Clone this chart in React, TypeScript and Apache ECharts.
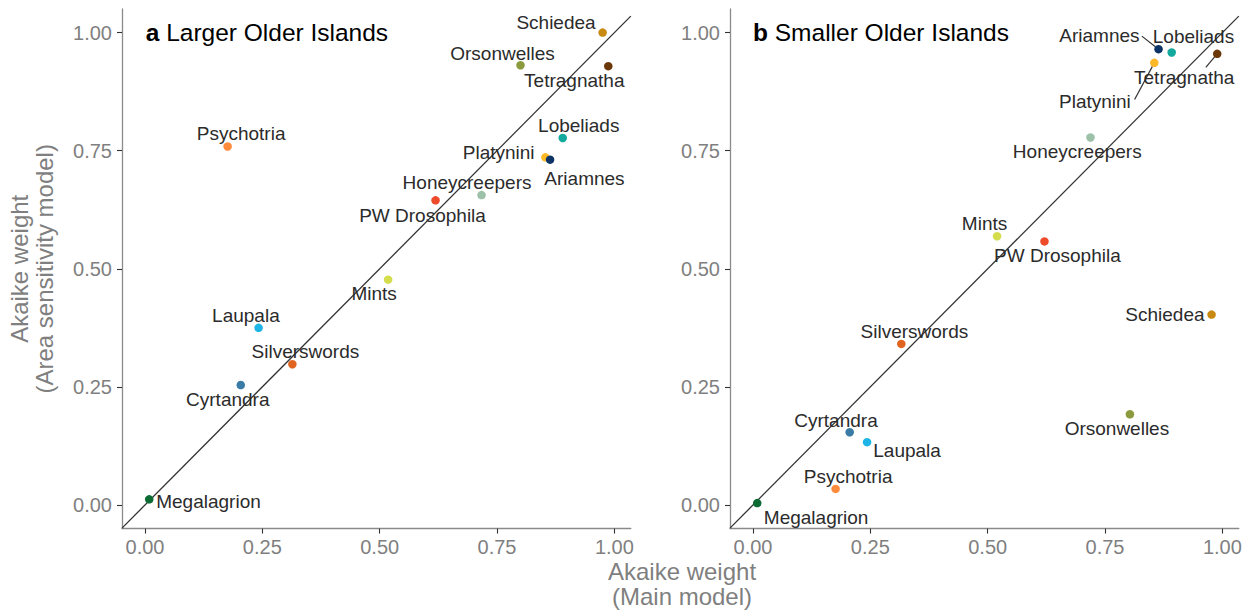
import React, { useEffect, useRef } from "react";
import * as echarts from "echarts";

// ---------- data ----------
const species = [
  "Schiedea", "Orsonwelles", "Tetragnatha", "Lobeliads", "Platynini", "Ariamnes", "Psychotria",
  "Honeycreepers", "PW Drosophila", "Mints", "Laupala", "Silverswords", "Cyrtandra", "Megalagrion",
];
// panel a: Larger Older Islands
const mainA = [0.975, 0.800, 0.987, 0.890, 0.853, 0.863, 0.176, 0.717, 0.619, 0.518, 0.242, 0.314, 0.204, 0.009];
const areaA = [1.000, 0.931, 0.929, 0.777, 0.736, 0.731, 0.759, 0.656, 0.645, 0.477, 0.375, 0.298, 0.254, 0.012];
// panel b: Smaller Older Islands
const mainB = [0.977, 0.803, 0.989, 0.892, 0.855, 0.864, 0.176, 0.719, 0.621, 0.520, 0.243, 0.316, 0.206, 0.009];
const areaB = [0.403, 0.192, 0.955, 0.958, 0.936, 0.965, 0.034, 0.778, 0.558, 0.569, 0.133, 0.341, 0.154, 0.004];
const tickValues = [0, 0.25, 0.5, 0.75, 1];

// ---------- styles ----------
const colors: Record<string, string> = {
  Schiedea: "#C98A12",
  Orsonwelles: "#8A9A3C",
  Tetragnatha: "#6A3708",
  Lobeliads: "#13A89E",
  Platynini: "#FDB827",
  Ariamnes: "#0B3366",
  Psychotria: "#FF8B3D",
  Honeycreepers: "#9CC0A8",
  "PW Drosophila": "#EE4B2B",
  Mints: "#D4DD4B",
  Laupala: "#1CB5E6",
  Silverswords: "#E0631F",
  Cyrtandra: "#3A7CA5",
  Megalagrion: "#0B6B32",
};

// label placement relative to point centre: [dx, dy, align]
const labelPosA: Record<string, [number, number, string]> = {
  Schiedea: [-7, -10, "right"],
  Orsonwelles: [-18, -12, "center"],
  Tetragnatha: [-34, 14.5, "center"],
  Lobeliads: [16, -12.7, "center"],
  Platynini: [-10.8, -5, "right"],
  Ariamnes: [34.4, 19, "center"],
  Psychotria: [13.5, -13, "center"],
  Honeycreepers: [-14.5, -12.3, "center"],
  "PW Drosophila": [-13, 14.7, "center"],
  Mints: [-14, 13.4, "center"],
  Laupala: [-12.7, -12.5, "center"],
  Silverswords: [13, -12.6, "center"],
  Cyrtandra: [-13, 14, "center"],
  Megalagrion: [7, 2, "left"],
};
const labelPosB: Record<string, [number, number, string]> = {
  Schiedea: [-7, 0.3, "right"],
  Orsonwelles: [-13, 14, "center"],
  Tetragnatha: [-33, 23.4, "center"],
  Lobeliads: [21.8, -15.6, "center"],
  Platynini: [-23.5, 39, "right"],
  Ariamnes: [-19, -14, "right"],
  Psychotria: [12.5, -12.3, "center"],
  Honeycreepers: [-13.2, 14.4, "center"],
  "PW Drosophila": [12.9, 14.4, "center"],
  Mints: [-12.5, -12.7, "center"],
  Laupala: [6.2, 8, "left"],
  Silverswords: [13.1, -12, "center"],
  Cyrtandra: [-13.7, -12, "center"],
  Megalagrion: [6.6, 14, "left"],
};
// leader-line start (pixel offset from point centre) for panel b
const leadersB: Record<string, [number, number]> = {
  Ariamnes: [-16.7, -13],
  Tetragnatha: [-11.4, 13.4],
  Platynini: [-19.7, 36.6],
};

const X_MIN = -0.049;
const X_MAX = 1.035;
const Y_MIN = -0.05;
const Y_MAX = 1.05;
const FONT = "'Liberation Sans', Arimo, Helvetica, Arial, sans-serif";
const GRAY = "#7F7F7F";
const DARK = "#333333";

export default function App() {
  const ref = useRef<HTMLDivElement>(null);

  useEffect(() => {
    if (!ref.current) return;
    const chart = echarts.init(ref.current, null, { renderer: "svg" });

    const mkData = (xs: number[], ys: number[], pos: Record<string, [number, number, string]>) =>
      species.map((name, i) => {
        const p = pos[name];
        return {
          name,
          value: [xs[i], ys[i]],
          itemStyle: { color: colors[name], opacity: 1 },
          label: { offset: [p[0], p[1]], align: p[2] },
        };
      });

    const xAxis = (gridIndex: number) => ({
      type: "value",
      gridIndex,
      min: X_MIN,
      max: X_MAX,
      axisLine: { show: true, onZero: false, lineStyle: { color: "#8A8A8A", width: 1.3 } },
      axisTick: { show: true, customValues: tickValues, length: 5, lineStyle: { color: DARK, width: 1.1 } },
      axisLabel: {
        customValues: tickValues,
        formatter: (v: number) => Number(v).toFixed(2),
        color: GRAY,
        fontSize: 20,
        margin: 8,
        fontFamily: FONT,
      },
      splitLine: { show: false },
    });
    const yAxis = (gridIndex: number) => ({
      type: "value",
      gridIndex,
      min: Y_MIN,
      max: Y_MAX,
      axisLine: { show: true, onZero: false, lineStyle: { color: "#8A8A8A", width: 1.3 } },
      axisTick: { show: true, customValues: tickValues, length: 5, lineStyle: { color: DARK, width: 1.1 } },
      axisLabel: {
        customValues: tickValues,
        formatter: (v: number) => Number(v).toFixed(2),
        color: GRAY,
        fontSize: 20,
        margin: 10,
        fontFamily: FONT,
      },
      splitLine: { show: false },
    });

    const labelBase = {
      show: true,
      position: ["50%", "50%"],
      verticalAlign: "middle",
      formatter: "{b}",
      color: "#2B2B2B",
      opacity: 1,
      fontSize: 19,
      fontFamily: FONT,
    };

    const diag = (idx: number) => ({
      type: "line",
      xAxisIndex: idx,
      yAxisIndex: idx,
      data: [[X_MIN, X_MIN], [X_MAX, X_MAX]],
      symbol: "none",
      silent: true,
      lineStyle: { color: DARK, width: 1.3 },
      z: 1,
    });

    chart.setOption({
      animation: false,
      textStyle: { fontFamily: FONT },
      grid: [
        { left: 122, top: 9, width: 508.8, height: 519.6, outerBoundsMode: "none", containLabel: false },
        { left: 730, top: 9, width: 508.8, height: 519.6, outerBoundsMode: "none", containLabel: false },
      ],
      xAxis: [xAxis(0), xAxis(1)],
      yAxis: [yAxis(0), yAxis(1)],
      series: [
        diag(0),
        diag(1),
        {
          type: "scatter",
          xAxisIndex: 0,
          yAxisIndex: 0,
          symbolSize: 8.5,
          z: 3,
          silent: true,
          itemStyle: { opacity: 1 },
          label: labelBase,
          data: mkData(mainA, areaA, labelPosA),
        },
        {
          type: "scatter",
          xAxisIndex: 1,
          yAxisIndex: 1,
          symbolSize: 8.5,
          z: 3,
          silent: true,
          itemStyle: { opacity: 1 },
          label: labelBase,
          data: mkData(mainB, areaB, labelPosB),
        },
      ],
    });

    // leader lines (panel b), anchored on the points' pixel positions
    const leaderGraphics = Object.keys(leadersB).map((name) => {
      const i = species.indexOf(name);
      const c = chart.convertToPixel({ xAxisIndex: 1, yAxisIndex: 1 }, [mainB[i], areaB[i]]) as number[];
      const s = leadersB[name];
      const sx = c[0] + s[0];
      const sy = c[1] + s[1];
      const len = Math.hypot(s[0], s[1]);
      const ex = c[0] + (s[0] / len) * 4;
      const ey = c[1] + (s[1] / len) * 4;
      return {
        type: "line",
        silent: true,
        z: 2,
        shape: { x1: sx, y1: sy, x2: ex, y2: ey },
        style: { stroke: DARK, lineWidth: 1.2 },
      };
    });

    const titleStyle = (letter: string, text: string) => ({
      text: `{b|${letter}} ${text}`,
      fontSize: 24.5,
      fontFamily: FONT,
      fill: "#000",
      align: "left",
      verticalAlign: "middle",
      rich: {
        b: { fontWeight: "bold", fontSize: 24.5, fontFamily: FONT, fill: "#000" },
      },
    });

    const axisTitle = (text: string) => ({
      text,
      fontSize: 24,
      fontFamily: FONT,
      fill: GRAY,
      align: "center",
      verticalAlign: "middle",
    });

    chart.setOption({
      graphic: [
        { type: "text", x: 145.7, y: 32.5, silent: true, style: titleStyle("a", "Larger Older Islands") },
        { type: "text", x: 753, y: 32.5, silent: true, style: titleStyle("b", "Smaller Older Islands") },
        { type: "text", x: 19, y: 268.8, rotation: Math.PI / 2, silent: true, style: axisTitle("Akaike weight") },
        { type: "text", x: 44, y: 268.8, rotation: Math.PI / 2, silent: true, style: axisTitle("(Area sensitivity model)") },
        { type: "text", x: 682, y: 571, silent: true, style: axisTitle("Akaike weight") },
        { type: "text", x: 682, y: 596.5, silent: true, style: axisTitle("(Main model)") },
        ...leaderGraphics,
      ],
    });

    return () => {
      chart.dispose();
    };
  }, []);

  return (
    <div
      ref={ref}
      style={{ position: "fixed", left: 0, top: 0, width: 1251, height: 614, background: "#fff" }}
    />
  );
}
